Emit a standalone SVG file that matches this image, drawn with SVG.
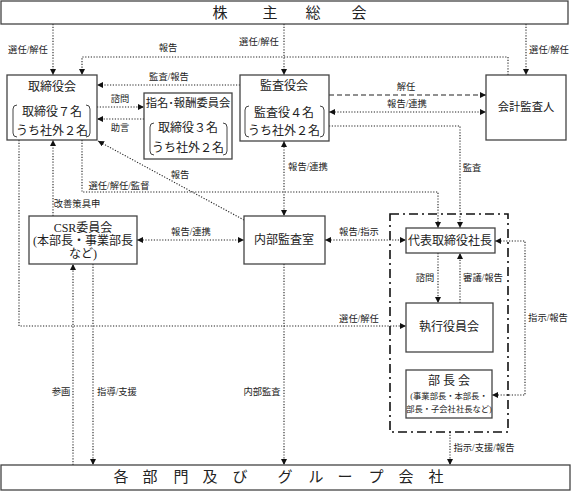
<svg xmlns="http://www.w3.org/2000/svg" width="574" height="491" viewBox="0 0 574 491">
<defs>
<style>
text{font-family:"Liberation Serif","Noto Sans CJK JP",serif;fill:#222;text-anchor:middle;dominant-baseline:central}
.box{fill:#fff;stroke:#444;stroke-width:1.3}
.t12{font-size:12px}
.t11{font-size:11.3px}
.t8{font-size:8.3px}
.lb{font-size:9.3px}
.big{font-size:15px}
.c{fill:none;stroke:#222;stroke-width:1.1;stroke-dasharray:1.2 1.6}
.dash{fill:none;stroke:#222;stroke-width:1.1;stroke-dasharray:5 3}
.brk{fill:none;stroke:#444;stroke-width:1}
.grp{fill:none;stroke:#111;stroke-width:1.6;stroke-dasharray:9 4 2 4}
</style>
<marker id="ah" viewBox="0 0 8 8" refX="8" refY="4" markerWidth="6" markerHeight="6" markerUnits="userSpaceOnUse" orient="auto-start-reverse"><path d="M0,0 L8,4 L0,8 z" fill="#111"/></marker>
</defs>

<g id="connectors">
<path class="c" d="M53,24 V75" marker-end="url(#ah)"/>
<path class="c" d="M284,24 V75" marker-end="url(#ah)"/>
<path class="c" d="M526,24 V75" marker-end="url(#ah)"/>
<path class="c" d="M508,75 V57 H82 V75" marker-end="url(#ah)"/>
<path class="c" d="M240,85 H97" marker-end="url(#ah)"/>
<path class="c" d="M97,107 H144" marker-end="url(#ah)"/>
<path class="c" d="M144,119 H97" marker-end="url(#ah)"/>
<path class="dash" d="M329,95 H486" marker-end="url(#ah)"/>
<path class="c" d="M329,112 H486" marker-start="url(#ah)" marker-end="url(#ah)"/>
<path class="c" d="M329,126 H460 V228" marker-end="url(#ah)"/>
<path class="c" d="M284,141 V216" marker-start="url(#ah)" marker-end="url(#ah)"/>
<path class="c" d="M244,220 L98,141" marker-end="url(#ah)"/>
<path class="c" d="M82,140 V192 H438 V228" marker-end="url(#ah)"/>
<path class="c" d="M53,216 V140" marker-end="url(#ah)"/>
<path class="c" d="M19,140 V326 H406" marker-end="url(#ah)"/>
<path class="c" d="M137,240 H244" marker-start="url(#ah)" marker-end="url(#ah)"/>
<path class="c" d="M325,240 H406" marker-start="url(#ah)" marker-end="url(#ah)"/>
<path class="c" d="M438,253 V303" marker-end="url(#ah)"/>
<path class="c" d="M460,303 V253" marker-end="url(#ah)"/>
<path class="c" d="M495,241 H525 V395 H492" marker-start="url(#ah)" marker-end="url(#ah)"/>
<path class="c" d="M73,465 V264" marker-end="url(#ah)"/>
<path class="c" d="M93,264 V465" marker-end="url(#ah)"/>
<path class="c" d="M284,264 V465" marker-end="url(#ah)"/>
<path class="c" d="M450,432 V465" marker-end="url(#ah)"/>

<text class="lb" x="28" y="50">選任/解任</text>
<text class="lb" x="259" y="42">選任/解任</text>
<text class="lb" x="549" y="50">選任/解任</text>
<text class="lb" x="168" y="48">報告</text>
<text class="lb" x="169" y="77">監査/報告</text>
<text class="lb" x="120" y="99">諮問</text>
<text class="lb" x="120" y="128">助言</text>
<text class="lb" x="406" y="87">解任</text>
<text class="lb" x="407" y="104">報告/連携</text>
<text class="lb" x="472" y="168">監査</text>
<text class="lb" x="308" y="167">報告/連携</text>
<text class="lb" x="180" y="175">報告</text>
<text class="lb" x="119" y="186">選任/解任/監督</text>
<text class="lb" x="77" y="204">改善策具申</text>
<text class="lb" x="191" y="232">報告/連携</text>
<text class="lb" x="359" y="232">報告/指示</text>
<text class="lb" x="425" y="278">諮問</text>
<text class="lb" x="483" y="278">審議/報告</text>
<text class="lb" x="548" y="318">指示/報告</text>
<text class="lb" x="359" y="319">選任/解任</text>
<text class="lb" x="61" y="392">参画</text>
<text class="lb" x="117" y="392">指導/支援</text>
<text class="lb" x="262" y="392">内部監査</text>
<text class="lb" x="484" y="448">指示/支援/報告</text>
</g>

<g id="shareholders">
<rect class="box" x="1" y="1" width="567" height="23"/>
<text class="big" x="220" y="13">株</text>
<text class="big" x="270" y="13">主</text>
<text class="big" x="313" y="13">総</text>
<text class="big" x="359" y="13">会</text>
</g>

<g id="board">
<rect class="box" x="7" y="75" width="90" height="65"/>
<text class="t12" x="52" y="87">取締役会</text>
<text class="t12" x="52" y="112">取締役７名</text>
<text class="t12" x="52" y="131">うち社外２名</text>
<path class="brk" d="M17,105 Q13,105 13,109 V133 Q13,137 17,137"/>
<path class="brk" d="M86,105 Q90,105 90,109 V133 Q90,137 86,137"/>
</g>

<g id="nomination">
<rect class="box" x="144" y="93" width="88" height="66"/>
<text class="t11" x="188" y="103">指名･報酬委員会</text>
<text class="t12" x="188" y="128">取締役３名</text>
<text class="t12" x="188" y="148">うち社外２名</text>
<path class="brk" d="M154,123 Q150,123 150,127 V151 Q150,155 154,155"/>
<path class="brk" d="M223,123 Q227,123 227,127 V151 Q227,155 223,155"/>
</g>

<g id="auditors">
<rect class="box" x="240" y="75" width="89" height="66"/>
<text class="t12" x="284" y="86">監査役会</text>
<text class="t12" x="284" y="113">監査役４名</text>
<text class="t12" x="284" y="131">うち社外２名</text>
<path class="brk" d="M249,106 Q245,106 245,110 V133 Q245,137 249,137"/>
<path class="brk" d="M320,106 Q324,106 324,110 V133 Q324,137 320,137"/>
</g>

<g id="accountant">
<rect class="box" x="486" y="75" width="80" height="65"/>
<text class="t11" x="526" y="107">会計監査人</text>
</g>

<g id="csr">
<rect class="box" x="29" y="216" width="108" height="48"/>
<text class="t12" x="83" y="228">CSR委員会</text>
<text class="t12" x="83" y="241">(本部長・事業部長</text>
<text class="t12" x="83" y="254">など)</text>
</g>

<g id="internal-audit">
<rect class="box" x="244" y="216" width="81" height="48"/>
<text class="t12" x="284" y="240">内部監査室</text>
</g>

<g id="exec-group">
<rect class="grp" x="390" y="214" width="118" height="218"/>
</g>

<g id="president">
<rect class="box" x="406" y="228" width="89" height="25"/>
<text class="t12" x="450" y="241">代表取締役社長</text>
</g>

<g id="executive">
<rect class="box" x="406" y="303" width="87" height="49"/>
<text class="t12" x="449" y="327">執行役員会</text>
</g>

<g id="managers">
<rect class="box" x="406" y="370" width="86" height="48"/>
<text class="t12" x="449" y="381">部 長 会</text>
<text class="t8" x="449" y="396">(事業部長・本部長・</text>
<text class="t8" x="449" y="409">部長・子会社社長など)</text>
</g>

<g id="group-companies">
<rect class="box" x="1" y="465" width="569" height="25"/>
<text class="big" x="121" y="477">各</text>
<text class="big" x="150" y="477">部</text>
<text class="big" x="181" y="477">門</text>
<text class="big" x="210" y="477">及</text>
<text class="big" x="240" y="477">び</text>
<text class="big" x="285" y="477">グ</text>
<text class="big" x="316" y="477">ル</text>
<text class="big" x="345" y="477">ー</text>
<text class="big" x="376" y="477">プ</text>
<text class="big" x="406" y="477">会</text>
<text class="big" x="436" y="477">社</text>
</g>
</svg>
